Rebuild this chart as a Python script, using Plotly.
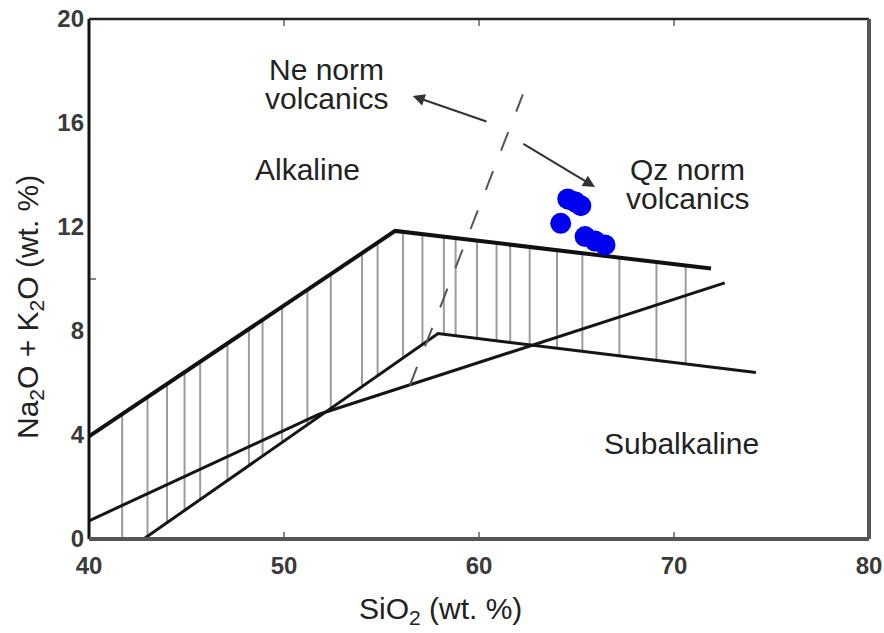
import numpy as np
import plotly.graph_objects as go

# boundary lines (SiO2, Na2O+K2O)
line_a_x = [40.0, 55.7, 71.9]
line_a_y = [3.95, 11.85, 10.4]
line_b_x = [40.0, 51.8, 72.6]
line_b_y = [0.7, 4.8, 9.85]
line_c_x = [42.8, 57.9, 74.2]
line_c_y = [0.0, 7.9, 6.4]

# Ne norm / Qz norm dashed divider
dash_x = [56.45, 62.25]
dash_y = [5.9, 17.1]

# vertical hatching positions (SiO2)
hatch_x = [41.7, 43.0, 44.0, 44.9, 45.7, 47.1, 48.2, 48.9, 49.9, 51.2, 52.4,
           54.0, 54.8, 56.1, 57.1, 58.2, 58.8, 59.9, 60.9, 61.6, 62.6, 64.0,
           65.3, 67.2, 69.1, 70.6]

# samples
sio2 = [64.19, 64.55, 64.92, 65.22, 65.44, 65.95, 66.46]
alk = [12.14, 13.08, 12.97, 12.82, 11.63, 11.46, 11.31]

x_ticks = [40, 50, 60, 70, 80]
y_ticks = [0, 4, 8, 12, 16, 20]

FONT = "Liberation Sans, Arial, sans-serif"

fig = go.Figure()

# hatch segments between line A (top) and line C (bottom)
hx, hy = [], []
for x in hatch_x:
    top = np.interp(x, line_a_x, line_a_y)
    bot = np.interp(x, line_c_x, line_c_y, left=0.0)
    hx += [x, x, None]
    hy += [bot, top, None]
fig.add_trace(go.Scatter(x=hx, y=hy, mode="lines",
                         line=dict(color="#9c9c9c", width=2), hoverinfo="skip"))

fig.add_trace(go.Scatter(x=line_b_x, y=line_b_y, mode="lines",
                         line=dict(color="#151515", width=3)))
fig.add_trace(go.Scatter(x=line_c_x, y=line_c_y, mode="lines",
                         line=dict(color="#151515", width=3)))
fig.add_trace(go.Scatter(x=line_a_x, y=line_a_y, mode="lines",
                         line=dict(color="#111111", width=4)))
fig.add_trace(go.Scatter(x=dash_x, y=dash_y, mode="lines",
                         line=dict(color="#555555", width=2, dash="20px,22px")))

fig.add_trace(go.Scatter(x=sio2, y=alk, mode="markers",
                         marker=dict(color="#0000f0", size=21, line=dict(width=0))))

# arrows from the divider
arrows = [((60.46, 16.04), (56.6, 17.04)), ((62.2, 15.23), (65.95, 13.54))]
for (tx, ty), (hx_, hy_) in arrows:
    fig.add_annotation(x=hx_, y=hy_, ax=tx, ay=ty, xref="x", yref="y",
                       axref="x", ayref="y", text="", showarrow=True,
                       arrowhead=2, arrowsize=1.2, arrowwidth=2, arrowcolor="#333")

# one annotation per text line so the line spacing stays tight
labels = [
    (52.2, 18.05, "Ne norm"),
    (52.2, 16.95, "volcanics"),
    (51.2, 14.23, "Alkaline"),
    (70.7, 14.2, "Qz norm"),
    (70.7, 13.1, "volcanics"),
    (70.4, 3.69, "Subalkaline"),
]
for x, y, t in labels:
    fig.add_annotation(x=x, y=y, text=t, showarrow=False, xanchor="center",
                       yanchor="middle",
                       font=dict(family=FONT, size=30, color="#222"))

# axis titles (pixel positions, converted below)
fig.add_annotation(x=440, y=610, xref="paper", yref="paper", text="SiO<sub>2</sub> (wt. %)",
                   showarrow=False, xanchor="center", yanchor="middle",
                   font=dict(family=FONT, size=30, color="#222"))
fig.add_annotation(x=29, y=307, text="Na<sub>2</sub>O + K<sub>2</sub>O (wt. %)",
                   xref="paper", yref="paper", textangle=-90, showarrow=False,
                   xanchor="center", yanchor="middle",
                   font=dict(family=FONT, size=30, color="#222"))

# frame
frame = [(0, 0, 0, 1, "#111", 3), (0, 1, 1, 1, "#222", 2.5),
         (1, 0, 1, 1, "#555", 4), (0, 0, 1, 0, "#555", 4)]
for x0, y0, x1, y1, c, w in frame:
    fig.add_shape(type="line", xref="x domain", yref="y domain",
                  x0=x0, y0=y0, x1=x1, y1=y1, line=dict(color=c, width=w))

W, H = 884, 633
L, R, T, B = 89, 15, 19, 94

fig.update_layout(
    width=W, height=H,
    margin=dict(l=L, r=R, t=T, b=B, autoexpand=False),
    paper_bgcolor="white", plot_bgcolor="white",
    showlegend=False,
)
for a in fig.layout.annotations:
    if a.xref == "paper":
        a.x = (a.x - L) / (W - L - R)
        a.y = 1 - (a.y - T) / (H - T - B)

fig.update_xaxes(range=[40, 80], tickvals=x_ticks, ticks="inside", ticklen=7,
                 tickcolor="#888", tickwidth=2, mirror="ticks", showgrid=False,
                 zeroline=False, showline=False, ticklabelstandoff=10,
                 automargin=False,
                 tickfont=dict(family=FONT, size=24, color="#3a3a3a", weight="bold"))
fig.update_yaxes(range=[0, 20], tickvals=y_ticks, ticks="", showgrid=False,
                 zeroline=False, showline=False, mirror="ticks", ticklabelstandoff=4,
                 automargin=False,
                 minor=dict(tickvals=[10], ticks="inside", ticklen=7,
                            tickcolor="#888", tickwidth=2),
                 tickfont=dict(family=FONT, size=24, color="#3a3a3a", weight="bold"))

fig.write_html("out.html", config={"displayModeBar": False},
               post_script="document.body.style.margin='0';"
                           "document.body.style.overflow='hidden';")
